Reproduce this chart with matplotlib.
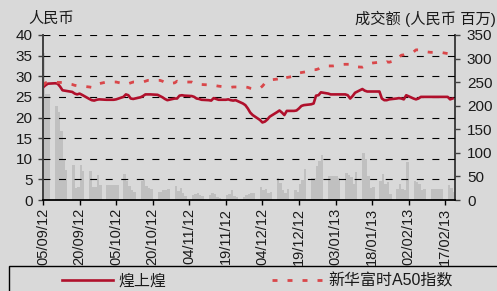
import matplotlib

matplotlib.use("Agg")
import matplotlib.pyplot as plt
from matplotlib.patches import Rectangle
import numpy as np
import pandas as pd

plt.rcParams["font.family"] = ["Liberation Sans", "Noto Sans CJK SC", "DejaVu Sans"]
plt.rcParams["lines.scale_dashes"] = False

BG = "#d9d9d9"
BAR = "#c0c0c0"
RED = "#b0102c"
RED_LIGHT = "#d9474a"

# trading window (weekdays, holidays carried flat in the source)
start_date = "2012-09-05"
end_date = "2013-02-20"

tick_labels = ["05/09/12", "20/09/12", "05/10/12", "20/10/12", "04/11/12",
               "19/11/12", "04/12/12", "19/12/12", "03/01/13", "18/01/13",
               "02/02/13", "17/02/13"]

# turnover, RMB mn (right axis)
volume = [311, 225, 225,
          199, 187, 146, 86, 64,
          74, 26, 28, 74, 62,
          62, 28, 28, 53, 32,
          32, 32, 32, 32, 32,
          56, 40, 30, 22, 17,
          40, 44, 30, 26, 24,
          16, 18, 21, 22, 24,
          30, 20, 25, 14, 8,
          10, 12, 15, 10, 8,
          10, 15, 12, 7, 5,
          11, 12, 21, 8, 6,
          6, 10, 12, 14, 14,
          28, 21, 23, 14, 16,
          47, 37, 21, 14, 23,
          22, 16, 33, 42, 65,
          46, 47, 72, 83, 95,
          51, 51, 51, 51, 46,
          57, 53, 49, 33, 60,
          100, 86, 51, 26, 28,
          40, 56, 35, 38, 13,
          23, 33, 23, 21, 81,
          41, 38, 34, 22, 23,
          23, 23, 23, 23, 23,
          32, 26, 17]

# share price, RMB (left axis)
hsh_price = [27.3, 27.8, 28.2,
             28.3, 28.2, 27.5, 26.6, 26.5,
             26.2, 25.8, 25.6, 25.8, 25.5,
             24.5, 24.2, 24.1, 24.3, 24.4,
             24.3, 24.3, 24.3, 24.3, 24.4,
             25.0, 25.6, 25.4, 24.6, 24.5,
             24.9, 25.2, 25.6, 25.6, 25.6,
             25.5, 25.2, 24.9, 24.5, 24.2,
             24.6, 24.6, 25.3, 25.4, 25.3,
             25.2, 25.0, 24.6, 24.5, 24.3,
             24.2, 24.1, 24.7, 24.5, 24.3,
             24.3, 24.4, 24.2, 24.1, 24.2,
             23.4, 23.0, 22.2, 21.2, 20.6,
             19.4, 18.8, 19.0, 19.5, 20.2,
             21.3, 21.7, 21.2, 20.6, 21.6,
             21.6, 21.7, 22.2, 22.8, 23.0,
             23.2, 23.4, 25.3, 25.4, 26.1,
             25.8, 25.6, 25.6, 25.6, 25.6,
             25.6, 25.4, 24.6, 25.2, 26.0,
             26.9, 26.5, 26.3, 26.3, 26.3,
             26.3, 24.6, 24.2, 24.2, 24.4,
             24.6, 24.7, 24.6, 24.4, 25.4,
             24.6, 24.4, 24.6, 25.0, 25.0,
             25.0, 25.0, 25.0, 25.0, 25.0,
             25.0, 24.4, 24.6]

# FTSE Xinhua A50, rebased (left axis)
a50_index = [27.8, 28.4, 28.6,
             28.6, 28.5, 28.5, 28.5, 28.3,
             28.0, 27.8, 27.7, 27.6, 27.6,
             27.4, 27.3, 27.3, 27.6, 28.2,
             28.6, 28.6, 28.6, 28.6, 28.6,
             28.2, 28.0, 28.2, 28.4, 28.6,
             28.6, 28.6, 28.8, 29.0, 29.0,
             29.0, 29.0, 28.8, 28.5, 28.2,
             28.4, 28.8, 28.6, 28.6, 28.6,
             28.6, 28.3, 28.4, 28.2, 28.0,
             27.9, 28.0, 27.8, 27.7, 27.6,
             27.4, 27.3, 27.3, 27.4, 27.4,
             27.4, 27.4, 27.3, 27.1, 27.0,
             27.1, 27.6, 28.3, 28.9, 29.1,
             29.3, 29.4, 29.0, 29.6, 29.7,
             30.0, 30.5, 30.8, 30.9, 31.0,
             31.3, 31.6, 31.6, 31.8, 32.2,
             32.5, 32.5, 32.5, 32.6, 32.8,
             32.9, 32.9, 32.9, 32.7, 32.3,
             32.2, 32.5, 32.8, 33.1, 33.2,
             33.4, 33.3, 33.2, 33.5, 33.4,
             33.9, 34.6, 35.1, 35.2, 35.4,
             35.9, 36.4, 36.4, 36.3, 36.0,
             35.8, 35.8, 35.8, 35.8, 35.8,
             35.5, 35.4, 35.2]

dates = pd.bdate_range(start_date, end_date)
t0 = dates[0]
days = np.asarray((dates - t0).days)
tick_days = np.asarray((pd.to_datetime(tick_labels, format="%d/%m/%y") - t0).days)

W, H = 497, 291
fig = plt.figure(figsize=(W / 100, H / 100), dpi=100, facecolor=BG)
ax = fig.add_axes([43 / W, 1 - 200 / H, 412 / W, 165 / H])
ax2 = ax.twinx()
ax.set_zorder(ax2.get_zorder() + 1)
ax.patch.set_visible(False)
ax2.patch.set_facecolor(BG)

ax2.bar(days, volume, width=1.0, align="edge", color=BAR, linewidth=0)
ax2.set_ylim(0, 350)
ax2.set_yticks(range(0, 351, 50))

l1, = ax.plot(days, hsh_price, color=RED, lw=1.9, solid_joinstyle="round")
l2, = ax.plot(days, a50_index, color=RED_LIGHT, lw=2.0,
              linestyle=(0, (3.6, 7.2)))
ax.set_ylim(0, 40)
ax.set_yticks(range(0, 41, 5))
ax.set_xlim(0, 169)
ax.set_xticks(tick_days)
ax.set_xticklabels(tick_labels, rotation=90)
ax.yaxis.grid(True, color="black", lw=0.8, linestyle=(0, (5, 6.2)))

for s in ["top", "right"]:
    ax.spines[s].set_visible(False)
for s in ["top", "left", "bottom"]:
    ax2.spines[s].set_visible(False)
ax.spines["left"].set_color("#404040")
ax.spines["left"].set_linewidth(1.4)
ax.spines["bottom"].set_color("black")
ax.spines["bottom"].set_linewidth(1.3)
ax2.spines["right"].set_color("#404040")
ax2.spines["right"].set_linewidth(1.4)

ax.tick_params(axis="y", length=3.6, width=1, color="#404040", pad=4,
               labelsize=11, labelcolor="#1a1a1a")
ax.tick_params(axis="x", length=3.6, width=1, color="black", pad=2,
               labelsize=10.5, labelcolor="#1a1a1a")
ax2.tick_params(axis="y", length=3.6, width=1, color="#404040", pad=5,
                labelsize=11, labelcolor="#1a1a1a")

fig.text(28 / W, 1 - 19 / H, "人民币", ha="left", va="center",
         fontsize=11, color="#1a1a1a")
fig.text(496 / W, 1 - 19 / H, "成交额 (人民币 百万)", ha="right", va="center",
         fontsize=11, color="#1a1a1a")

# legend box, bottom edge runs off the image
fig.patches.append(Rectangle((9 / W, -0.1), 1.0, 0.1 + 25 / H,
                             transform=fig.transFigure, fill=False,
                             edgecolor="black", lw=1.0))
fig.legend([l1, l2], ["煌上煌", "新华富时A50指数"], loc="center left",
           bbox_to_anchor=(62 / W, 1 - 281 / H), ncol=2, frameon=False,
           borderpad=0, borderaxespad=0, handlelength=3.2,
           handletextpad=0.35, columnspacing=6.6, fontsize=11.5,
           labelcolor="#1a1a1a")

fig.savefig("out.png", dpi=100, facecolor=BG)
